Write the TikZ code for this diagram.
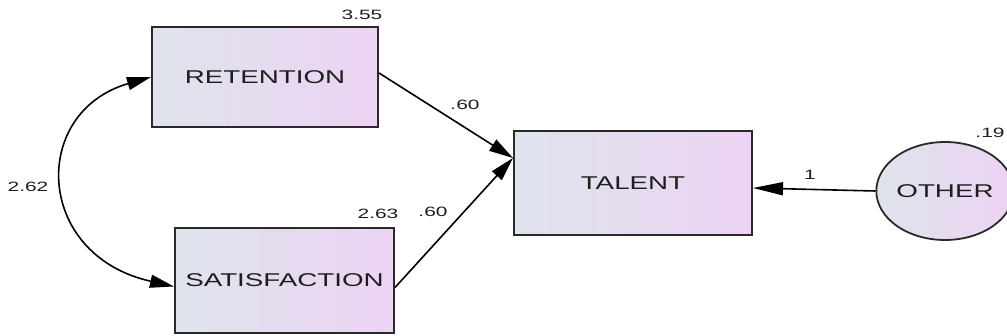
\documentclass[tikz,border=0pt]{standalone}
\usepackage{fontspec}
\setmainfont{Liberation Sans}
\usetikzlibrary{arrows.meta,shapes.geometric,calc}
\definecolor{fillL}{HTML}{DFE4EC}
\definecolor{fillR}{HTML}{ECD3F3}
\definecolor{edge}{HTML}{2A2A2A}
\definecolor{txt}{HTML}{1E1E1E}
\newcommand{\biglab}[1]{\scalebox{1.5}[1]{\fontsize{18.5}{20}\selectfont #1}}
\newcommand{\numlab}[1]{\scalebox{1.55}[1]{\fontsize{13.5}{15}\selectfont #1}}
\tikzset{
  varbox/.style={draw=edge, line width=2pt, left color=fillL, right color=fillR, inner sep=0pt, text=txt},
  errvar/.style={ellipse, draw=edge, line width=1.8pt, left color=fillL, right color=fillR, inner sep=0pt, text=txt},
  numtext/.style={text=txt, inner sep=0pt},
  path/.style={draw=black, line width=1.6pt, -{Triangle[length=24pt, width=13pt]}},
}
\begin{document}
\begin{tikzpicture}[x=1pt, y=-1pt]
\useasboundingbox (0,0) rectangle (1007,336);
% nodes
\node[varbox, minimum width=226pt, minimum height=100pt] (RET) at (265,77) {\biglab{RETENTION}};
\node[varbox, minimum width=219pt, minimum height=105pt] (SAT) at (284.5,280.5) {\biglab{SATISFACTION}};
\node[varbox, minimum width=238pt, minimum height=104pt] (TAL) at (633,183) {\biglab{TALENT}};
\node[errvar, minimum width=126pt, minimum height=98pt] (OTH) at (945,191) {\biglab{OTHER}};
% connector points
\coordinate (tip) at ($(TAL.west)+(0,-25)$);
\coordinate (retout) at ($(RET.east)+(0,-4)$);
\coordinate (satout) at ($(SAT.east)+(0,7)$);
\coordinate (satin) at ($(SAT.west)+(0,6)$);
\coordinate (talin) at ($(TAL.east)+(0,5)$);
% paths
\draw[path] (retout) -- (tip);
\draw[path] (satout) -- (tip);
\draw[path, -{Triangle[length=30pt, width=13pt]}] (OTH.west) -- (talin);
\draw[line width=1.6pt, {Triangle[length=24pt, width=13pt]}-{Triangle[length=24pt, width=13pt]}]
  (RET.west) .. controls (30,112) and (34,255) .. (satin);
% labels
\node[numtext] (l355) at (362,15) {\numlab{3.55}};
\node[numtext] (l263) at (378,214) {\numlab{2.63}};
\node[numtext] (l60a) at (465,105) {\numlab{.60}};
\node[numtext] (l60b) at (433,212) {\numlab{.60}};
\node[numtext] (l1) at (810,175) {\numlab{1}};
\node[numtext] (l19) at (990,133) {\numlab{.19}};
\node[numtext] (l262) at (28,187) {\numlab{2.62}};
\end{tikzpicture}
\end{document}
